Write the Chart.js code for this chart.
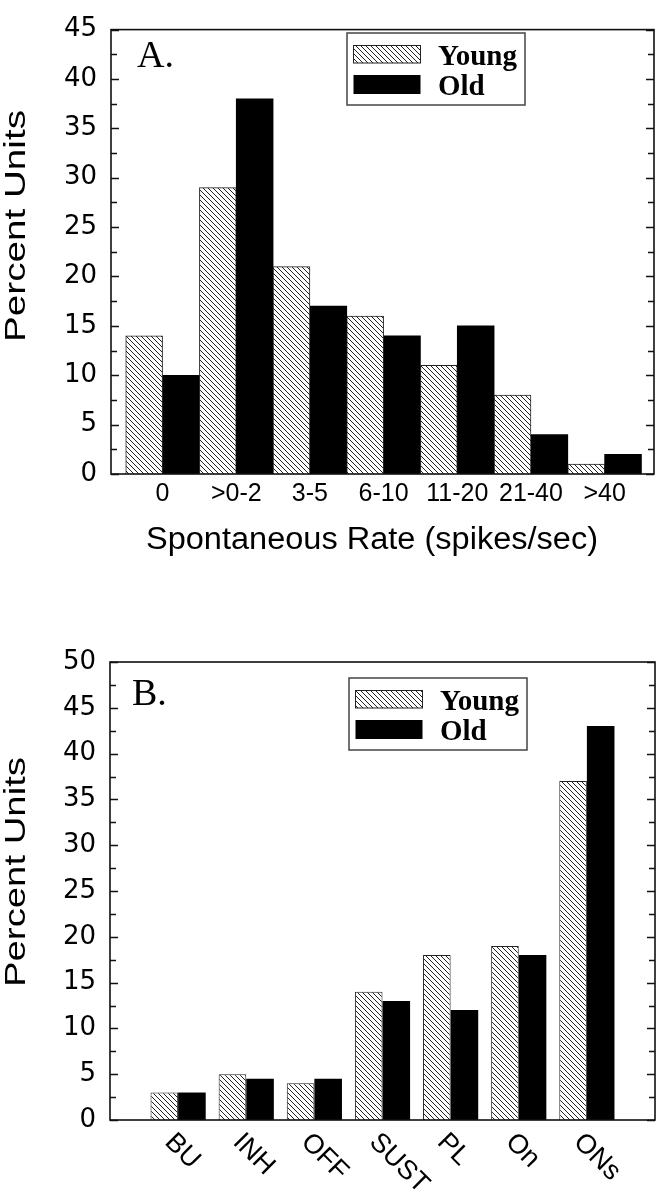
<!DOCTYPE html>
<html>
<head>
<meta charset="utf-8">
<script src="https://cdn.jsdelivr.net/npm/chart.js@4.4.1/dist/chart.umd.min.js"></script>
<style>
  body { margin: 0; background: #fff; }
  canvas { display: block; }
</style>
</head>
<body>
<canvas id="rateChart" width="664" height="600"></canvas>
<canvas id="typeChart" width="664" height="600"></canvas>
<script>
// Panel A: spontaneous rate distribution
const rateLabels = ['0', '>0-2', '3-5', '6-10', '11-20', '21-40', '>40'];
const rateYoung = [14, 29, 21, 16, 11, 8, 1];
const rateOld = [10, 38, 17, 14, 15, 4, 2];

// Panel B: response type distribution
const typeLabels = ['BU', 'INH', 'OFF', 'SUST', 'PL', 'On', 'ONs'];
const typeYoung = [3, 5, 4, 14, 18, 19, 37];
const typeOld = [3, 4.5, 4.5, 13, 12, 18, 43];

const seriesNames = ['Young', 'Old'];
const yLabelStep = 5;
const yMinorStep = 2.5;

const SANS = "'Liberation Sans', Arial, sans-serif";
const WIDE = "'DejaVu Sans', sans-serif";
const SERIF = "'Liberation Serif', 'Times New Roman', serif";

function makeHatch(ctx) {
  const tile = document.createElement('canvas');
  tile.width = 5; tile.height = 5;
  const g = tile.getContext('2d');
  g.fillStyle = '#fff';
  g.fillRect(0, 0, 5, 5);
  g.strokeStyle = '#222';
  g.lineWidth = 1;
  g.beginPath();
  g.moveTo(-1, -1); g.lineTo(6, 6);
  g.moveTo(4, -1); g.lineTo(6, 1);
  g.moveTo(-1, 4); g.lineTo(1, 6);
  g.stroke();
  return ctx.createPattern(tile, 'repeat');
}

// text stretched to a given length (the original lettering is wide)
function fitText(ctx, text, x, y, length, angle) {
  ctx.save();
  ctx.translate(x, y);
  if (angle) ctx.rotate(angle);
  const w = ctx.measureText(text).width;
  ctx.scale(length / w, 1);
  ctx.textAlign = 'center';
  ctx.fillText(text, 0, 0);
  ctx.restore();
}

function makeChart(id, cfg) {
  const canvas = document.getElementById(id);
  const hatch = makeHatch(canvas.getContext('2d'));

  const framePlugin = {
    id: 'frame',
    afterDatasetsDraw(chart) {
      const { ctx, chartArea: a } = chart;
      const ys = chart.scales.y;
      ctx.save();
      ctx.strokeStyle = '#111';
      ctx.lineWidth = 1.6;
      ctx.strokeRect(a.left, a.top, a.right - a.left, a.bottom - a.top);
      ctx.beginPath();
      ys.ticks.forEach(t => {
        const py = Math.round(ys.getPixelForValue(t.value)) + 0.5;
        const len = t.value % yLabelStep === 0 ? 8 : 6;
        ctx.moveTo(a.left, py); ctx.lineTo(a.left + len, py);
        ctx.moveTo(a.right, py); ctx.lineTo(a.right - len, py);
      });
      ctx.lineWidth = 1.3;
      ctx.stroke();
      ctx.restore();
    }
  };

  const legendPlugin = {
    id: 'legendBox',
    afterDraw(chart) {
      const ctx = chart.ctx;
      const b = cfg.legend;
      ctx.save();
      ctx.strokeStyle = '#444';
      ctx.lineWidth = 1.5;
      ctx.strokeRect(b.x, b.y, 178, 72);
      ctx.font = 'bold 29px ' + SERIF;
      ctx.textBaseline = 'alphabetic';
      chart.data.datasets.forEach((ds, i) => {
        const sy = b.y + (i === 0 ? 12.5 : 42);
        const sh = i === 0 ? 17.5 : 19;
        ctx.fillStyle = ds.backgroundColor;
        ctx.fillRect(b.x + 6.5, sy, 67, sh);
        if (ds.borderWidth) {
          ctx.lineWidth = 1;
          ctx.strokeStyle = ds.borderColor;
          ctx.strokeRect(b.x + 6.5, sy, 67, sh);
        }
        ctx.fillStyle = '#000';
        ctx.fillText(ds.label, b.x + 91, b.y + (i === 0 ? 31.5 : 61.5));
      });
      ctx.restore();
    }
  };

  const textPlugin = {
    id: 'texts',
    afterDraw(chart) {
      const { ctx, chartArea: a } = chart;
      ctx.save();
      ctx.fillStyle = '#000';
      ctx.textBaseline = 'alphabetic';
      // panel letter
      ctx.font = '38px ' + SERIF;
      ctx.textAlign = 'left';
      ctx.fillText(cfg.panel.text, cfg.panel.x, cfg.panel.y);
      // axis titles
      ctx.font = '30px ' + SANS;
      fitText(ctx, 'Percent Units', cfg.yTitle.x, cfg.yTitle.y, cfg.yTitle.len, -Math.PI / 2);
      if (cfg.xTitle) {
        ctx.font = '31px ' + SANS;
        fitText(ctx, cfg.xTitle.text, cfg.xTitle.x, cfg.xTitle.y, cfg.xTitle.len, 0);
      }
      // slanted category labels
      if (cfg.slanted) {
        const xs = chart.scales.x;
        ctx.font = '27px ' + SANS;
        ctx.textAlign = 'left';
        ctx.textBaseline = 'middle';
        cfg.labels.forEach((lab, i) => {
          ctx.save();
          ctx.translate(xs.getPixelForValue(i) - 9, a.bottom + 18);
          ctx.rotate(Math.PI / 4);
          ctx.fillText(lab, 0, 0);
          ctx.restore();
        });
      }
      ctx.restore();
    }
  };

  return new Chart(canvas, {
    type: 'bar',
    data: {
      datasets: [
        {
          label: seriesNames[0],
          data: cfg.young.map((v, i) => ({ x: i, y: v })),
          backgroundColor: hatch,
          borderColor: '#222',
          borderWidth: 1,
          categoryPercentage: cfg.groupWidth,
          barPercentage: 1
        },
        {
          label: seriesNames[1],
          data: cfg.old.map((v, i) => ({ x: i, y: v })),
          backgroundColor: '#000',
          borderWidth: 0,
          categoryPercentage: cfg.groupWidth,
          barPercentage: 1
        }
      ]
    },
    options: {
      responsive: false,
      animation: false,
      devicePixelRatio: 1,
      layout: { padding: cfg.pad },
      plugins: { legend: { display: false }, tooltip: { enabled: false } },
      scales: {
        x: {
          type: 'linear',
          min: cfg.xMin,
          max: cfg.xMax,
          offset: false,
          grid: { display: false, drawTicks: false },
          border: { display: false },
          ticks: {
            display: !cfg.slanted,
            stepSize: 1,
            includeBounds: false,
            autoSkip: false,
            maxRotation: 0,
            color: '#000',
            padding: 5,
            font: { family: SANS, size: 25 },
            callback: v => cfg.labels[v] ?? ''
          },
          afterFit: s => { s.height = cfg.xHeight; }
        },
        y: {
          min: 0,
          max: cfg.yMax,
          grid: { display: false, drawTicks: false },
          border: { display: false },
          ticks: {
            stepSize: yMinorStep,
            autoSkip: false,
            color: '#000',
            padding: 14,
            font: { family: WIDE, size: 26 },
            callback: v => (v % yLabelStep === 0 ? v : '')
          },
          afterFit: s => { s.width = cfg.yWidth; }
        }
      }
    },
    plugins: [framePlugin, legendPlugin, textPlugin]
  });
}

makeChart('rateChart', {
  labels: rateLabels, young: rateYoung, old: rateOld,
  yMax: 45, xMin: -0.7, xMax: 6.67, groupWidth: 1,
  pad: { left: 0, top: 14, right: 10, bottom: 0 },
  yWidth: 111, xHeight: 126,
  legend: { x: 347, y: 33 },
  panel: { text: 'A.', x: 137, y: 67 },
  yTitle: { x: 25, y: 226, len: 232 },
  xTitle: { text: 'Spontaneous Rate (spikes/sec)', x: 372, y: 549, len: 452 }
});

makeChart('typeChart', {
  labels: typeLabels, young: typeYoung, old: typeOld,
  yMax: 50, xMin: -1, xMax: 7, groupWidth: 0.81, slanted: true,
  pad: { left: 0, top: 62, right: 9, bottom: 0 },
  yWidth: 110, xHeight: 80,
  legend: { x: 349, y: 78 },
  panel: { text: 'B.', x: 132, y: 105 },
  yTitle: { x: 25, y: 272, len: 230 }
});
</script>
</body>
</html>
